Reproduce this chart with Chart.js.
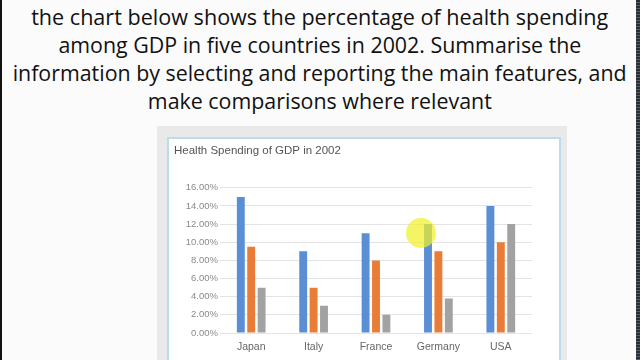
<!DOCTYPE html>
<html>
<head>
<meta charset="utf-8">
<script src="https://cdn.jsdelivr.net/npm/chart.js@4"></script>
<style>
    html, body {
        margin: 0;
        padding: 0;
        width: 640px;
        height: 360px;
        overflow: hidden;
        background: #fbfbfb;
    }
    #page {
        position: relative;
        width: 640px;
        height: 360px;
        border-left: 2px solid #111;
        box-sizing: border-box;
    }
    #rightEdge {
        position: absolute;
        left: 634px;
        top: 0;
        width: 6px;
        height: 360px;
        background: repeating-linear-gradient(180deg, #2a2f33 0px, #2a2f33 2px, #59606a 2px, #59606a 3px);
    }
    .line {
        position: absolute;
        left: 0;
        width: 636px;
        text-align: center;
        font-family: "Open Sans", sans-serif;
        font-size: 21px;
        line-height: 28px;
        color: #111;
        white-space: nowrap;
    }
    .line span {
        display: inline-block;
        transform-origin: center;
    }
    #frame {
        position: absolute;
        left: 155px;
        top: 126px;
        width: 410px;
        height: 240px;
        background: #e9e9e9;
    }
    #box {
        position: absolute;
        left: 165px;
        top: 137px;
        width: 390px;
        height: 230px;
        background: #fff;
        border: 2px solid #bcdcea;
    }
    #chartWrap {
        position: absolute;
        left: 166px;
        top: 139px;
        width: 390px;
        height: 221px;
    }
    #cursor {
        position: absolute;
        left: 404px;
        top: 218px;
        width: 30px;
        height: 30px;
        border-radius: 50%;
        background: rgba(240, 240, 40, 0.72);
    }
</style>
</head>
<body>
<div id="page">
    <div class="line" style="top:3px"><span data-w="577">the chart below shows the percentage of health spending</span></div>
    <div class="line" style="top:31px"><span data-w="523">among GDP in five countries in 2002. Summarise the</span></div>
    <div class="line" style="top:59px"><span data-w="614">information by selecting and reporting the main features, and</span></div>
    <div class="line" style="top:87px"><span data-w="344">make comparisons where relevant</span></div>
    <div id="frame"></div>
    <div id="box"></div>
    <div id="chartWrap"><canvas id="healthChart" width="390" height="221"></canvas></div>
    <div id="cursor"></div>
    <div id="rightEdge"></div>
</div>

<script>
// Chart data
const countries = ['Japan', 'Italy', 'France', 'Germany', 'USA'];
const seriesA = [15, 9, 11, 12, 14];
const seriesB = [9.5, 5, 8, 9, 10];
const seriesC = [5, 3, 2, 3.8, 12];
const yTicks = [0, 2, 4, 6, 8, 10, 12, 14, 16];
const chartTitle = 'Health Spending of GDP in 2002';

// Squeeze the heading lines to the widths seen in the slide
document.querySelectorAll('.line span').forEach(span => {
    const target = parseFloat(span.dataset.w);
    const natural = span.getBoundingClientRect().width;
    span.style.transform = `scaleX(${target / natural})`;
});

const ctx = document.getElementById('healthChart').getContext('2d');
new Chart(ctx, {
    type: 'bar',
    data: {
        labels: countries,
        datasets: [
            { label: 'A', data: seriesA, backgroundColor: '#5a8ed5' },
            { label: 'B', data: seriesB, backgroundColor: '#e97c37' },
            { label: 'C', data: seriesC, backgroundColor: '#a2a2a2' }
        ]
    },
    options: {
        responsive: false,
        animation: false,
        layout: {
            padding: { left: 6, right: 26, top: 0, bottom: 0 }
        },
        datasets: {
            bar: {
                categoryPercentage: 0.5,
                barPercentage: 0.76,
                borderWidth: 0
            }
        },
        plugins: {
            legend: { display: false },
            tooltip: { enabled: false },
            title: {
                display: true,
                text: chartTitle,
                align: 'start',
                color: '#555',
                font: { family: 'Liberation Sans', size: 11.5, weight: 'normal' },
                padding: { top: 5, bottom: 30 }
            }
        },
        scales: {
            y: {
                min: 0,
                max: 16,
                afterBuildTicks: scale => {
                    scale.ticks = yTicks.map(v => ({ value: v }));
                },
                afterFit: scale => {
                    scale.width = 46;
                },
                ticks: {
                    color: '#8a8a8a',
                    font: { family: 'Liberation Sans', size: 9.5 },
                    padding: 2,
                    callback: v => v.toFixed(2) + '%'
                },
                grid: {
                    color: '#e4e4e4',
                    drawTicks: false
                },
                border: { display: false }
            },
            x: {
                afterFit: scale => {
                    scale.height = 27;
                },
                ticks: {
                    color: '#666',
                    font: { family: 'Liberation Sans', size: 10.5 },
                    padding: 0
                },
                grid: { display: false },
                border: { display: false }
            }
        }
    }
});
</script>
</body>
</html>
